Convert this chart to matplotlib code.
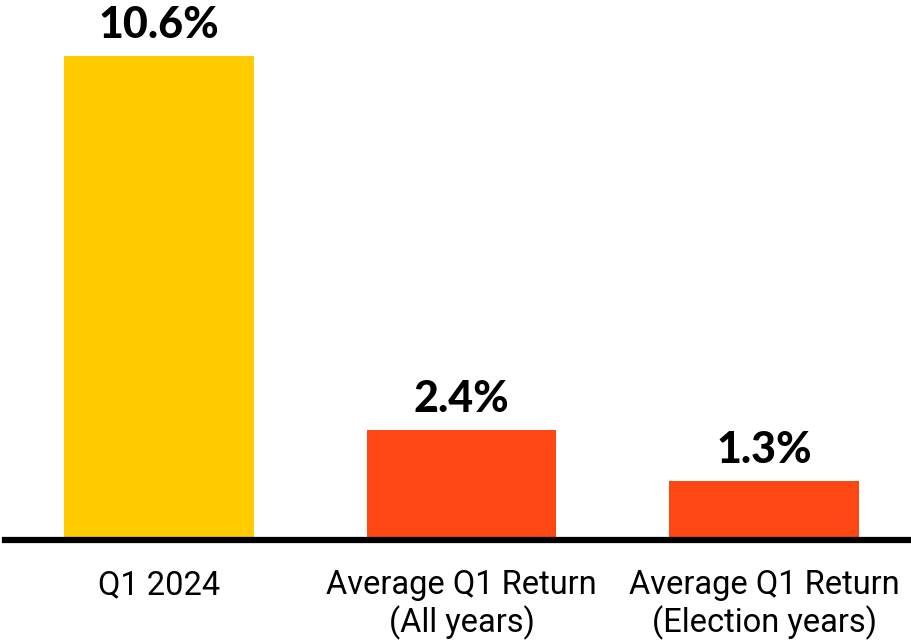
import matplotlib
matplotlib.use('Agg')
from matplotlib import pyplot as plt

categories = ['Q1 2024', 'Average Q1 Return\n(All years)', 'Average Q1 Return\n(Election years)']
returns = [10.6, 2.4, 1.3]
value_labels = ['10.6%', '2.4%', '1.3%']
bar_colors = ['#FFCC00', '#FF4713', '#FF4713']

fig = plt.figure(figsize=(9.11, 6.4), dpi=100)
ax = fig.add_axes([5 / 911, 100 / 640, 906 / 911, 540 / 640])

x = range(len(categories))
ax.bar(x, returns, width=0.627, color=bar_colors, zorder=2)

for i, v in enumerate(returns):
    ax.annotate(value_labels[i], (i, v), xytext=(0, 8), textcoords='offset points',
                ha='center', va='bottom', fontsize=31, fontweight='black',
                family=['Lato', 'DejaVu Sans'])

ax.set_xlim(-0.508, 2.485)
ax.set_ylim(0, 11.83)
ax.set_xticks(list(x))
ax.set_xticklabels(categories, fontsize=23.5, family=['Roboto', 'DejaVu Sans'], linespacing=1.15)
ax.tick_params(axis='x', length=0, pad=21)
ax.set_yticks([])
for side in ['top', 'right', 'left']:
    ax.spines[side].set_visible(False)
ax.spines['bottom'].set_linewidth(4.5)
ax.spines['bottom'].set_color('black')
ax.spines['bottom'].set_zorder(3)

fig.savefig('out.png', dpi=100)
